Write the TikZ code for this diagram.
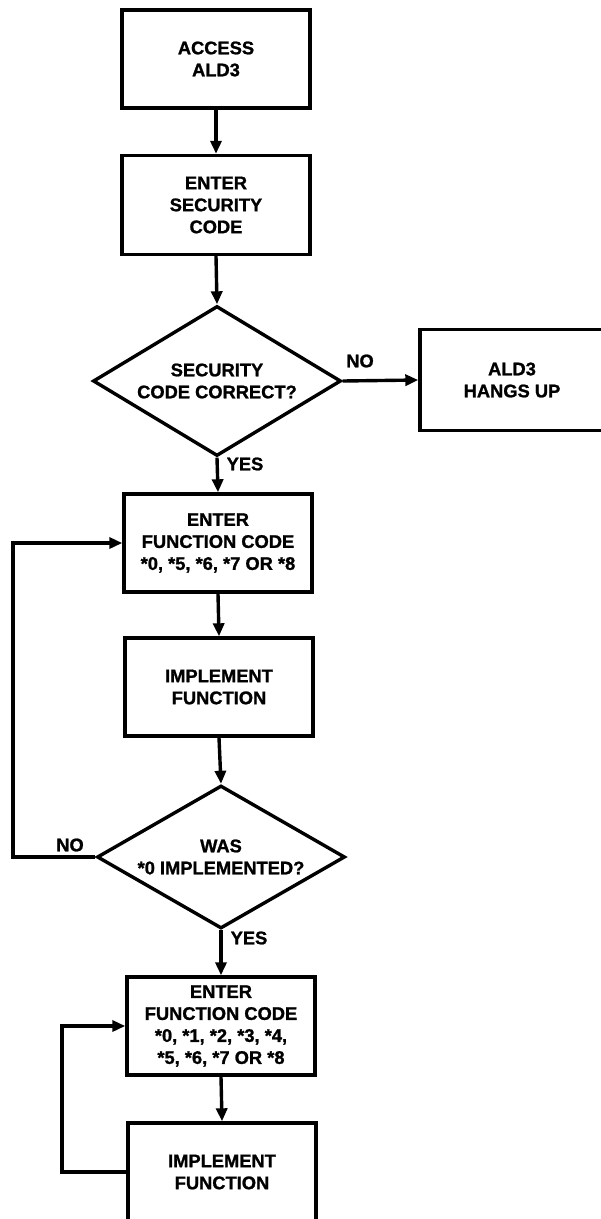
\documentclass[tikz,border=0pt]{standalone}
\usepackage{fontspec}
\setmainfont[BoldFeatures={FakeBold=1.2}]{Liberation Sans}
\usetikzlibrary{shapes.geometric,arrows.meta}
\begin{document}
\begin{tikzpicture}[x=1pt,y=-1pt,
 every node/.style={font=\bfseries\fontsize{18.3}{22}\selectfont, align=center},
 box/.style={draw, line width=3.4pt, minimum width=188pt, minimum height=98pt, inner sep=0pt},
 dec/.style={draw, diamond, line width=3.4pt, aspect=1.65, minimum width=248pt, minimum height=150pt, inner sep=0pt},
 arr/.style={line width=3.4pt, -{Triangle[length=13pt,width=11pt]}},
 lbl/.style={inner sep=0pt}]
\useasboundingbox (0,0) rectangle (601,1219);
\clip (0,0) rectangle (601,1219);
\node[box] (access) at (216,59) {ACCESS\\ALD3};
\node[box, minimum height=99pt] (sec) at (216,205) {ENTER\\SECURITY\\CODE};
\node[dec] (d1) at (217,381) {SECURITY\\CODE CORRECT?};
\node[box, minimum width=184pt, minimum height=101pt] (hang) at (512,380) {ALD3\\HANGS UP};
\node[box] (f1) at (218,543) {ENTER\\FUNCTION CODE\\*0, *5, *6, *7 OR *8};
\node[box] (imp1) at (219,687) {IMPLEMENT\\FUNCTION};
\node[dec, minimum height=143pt] (d2) at (221,857) {WAS\\*0 IMPLEMENTED?};
\node[box] (f2) at (221,1026) {ENTER\\FUNCTION CODE\\*0, *1, *2, *3, *4,\\*5, *6, *7 OR *8};
\node[box] (imp2) at (222,1172) {IMPLEMENT\\FUNCTION};
\coordinate (lp1) at (13,857);
\coordinate (lp2) at (62,1172);
\draw[arr] (access.south) -- (sec.north);
\draw[arr] (sec.south) -- (d1.north);
\draw[arr] (d1.east) -- (hang.west);
\draw[arr] (d1.south) -- (f1.north);
\draw[arr] (f1.south) -- (imp1.north);
\draw[arr] (imp1.south) -- (d2.north);
\draw[arr] (d2.south) -- (f2.north);
\draw[arr] (f2.south) -- (imp2.north);
\draw[arr] (d2.west) -- (d2.west -| lp1) |- (f1.west);
\draw[arr] (imp2.west) -- (imp2.west -| lp2) |- (f2.west);
\node[lbl] (no1) at (360,361) {NO};
\node[lbl] (yes1) at (245,464) {YES};
\node[lbl] (no2) at (70,845) {NO};
\node[lbl] (yes2) at (249,938) {YES};
\end{tikzpicture}
\end{document}
